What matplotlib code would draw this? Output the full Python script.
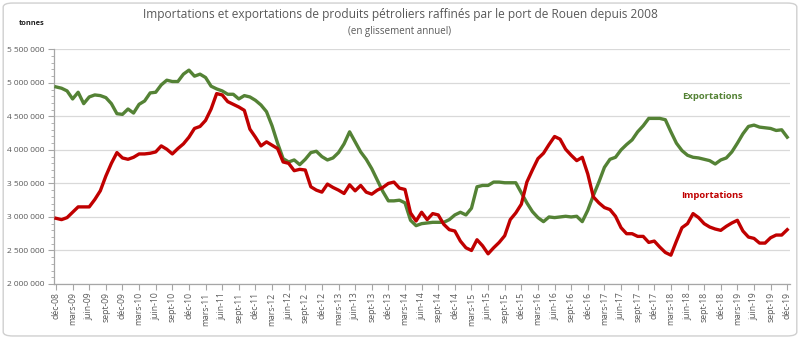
import matplotlib
matplotlib.use("Agg")
import matplotlib.pyplot as plt
from matplotlib.ticker import MultipleLocator, FuncFormatter, FixedLocator
from matplotlib.patches import FancyBboxPatch

plt.rcParams['font.family'] = ['Open Sans', 'DejaVu Sans']

# Monthly data, déc-08 .. déc-19 (rolling annual totals, millions of tonnes)
exportations = [
    4.94, 4.92, 4.88, 4.76, 4.86, 4.69, 4.79, 4.82, 4.81, 4.78, 4.69, 4.54,
    4.53, 4.61, 4.55, 4.68, 4.73, 4.85, 4.86, 4.97, 5.04, 5.02, 5.02, 5.13,
    5.19, 5.10, 5.13, 5.08, 4.95, 4.91, 4.88, 4.83, 4.83, 4.76, 4.81, 4.79,
    4.74, 4.67, 4.57, 4.36, 4.10, 3.87, 3.82, 3.85, 3.78, 3.86, 3.96, 3.98,
    3.90, 3.85, 3.88, 3.96, 4.09, 4.27, 4.12, 3.97, 3.86, 3.72, 3.55, 3.38,
    3.24, 3.24, 3.25, 3.21, 2.95, 2.87, 2.90, 2.91, 2.92, 2.92, 2.92, 2.96,
    3.03, 3.07, 3.03, 3.13, 3.45, 3.47, 3.47, 3.52, 3.52, 3.51, 3.51, 3.51,
    3.36, 3.21, 3.08, 2.99, 2.93, 3.00, 2.99, 3.00, 3.01, 3.00, 3.01, 2.93,
    3.10, 3.32, 3.52, 3.74, 3.86, 3.89, 4.00, 4.08, 4.15, 4.27, 4.36, 4.47,
    4.47, 4.47, 4.45, 4.27, 4.10, 3.99, 3.92, 3.89, 3.88, 3.86, 3.84, 3.79,
    3.85, 3.88, 3.97, 4.10, 4.24, 4.35, 4.37, 4.34, 4.33, 4.32, 4.29, 4.30,
    4.19,
]
importations = [
    2.98, 2.96, 2.99, 3.07, 3.15, 3.15, 3.15, 3.26, 3.39, 3.61, 3.80, 3.96,
    3.88, 3.86, 3.89, 3.94, 3.94, 3.95, 3.97, 4.06, 4.01, 3.94, 4.02, 4.09,
    4.19, 4.32, 4.35, 4.44, 4.61, 4.84, 4.82, 4.72, 4.68, 4.64, 4.59, 4.31,
    4.19, 4.06, 4.12, 4.07, 4.02, 3.82, 3.80, 3.69, 3.71, 3.70, 3.45, 3.40,
    3.37, 3.49, 3.44, 3.40, 3.35, 3.48, 3.39, 3.47, 3.37, 3.34, 3.40, 3.44,
    3.50, 3.52, 3.43, 3.41, 3.06, 2.94, 3.07, 2.96, 3.05, 3.03, 2.89, 2.81,
    2.79, 2.64, 2.54, 2.50, 2.66, 2.57, 2.45, 2.54, 2.62, 2.72, 2.96, 3.06,
    3.19, 3.52, 3.70, 3.87, 3.95, 4.08, 4.20, 4.16, 4.01, 3.92, 3.84, 3.89,
    3.64, 3.30, 3.21, 3.14, 3.11, 3.01, 2.84, 2.75, 2.75, 2.71, 2.71, 2.62,
    2.64, 2.55, 2.47, 2.43, 2.64, 2.84, 2.90, 3.05, 2.99, 2.90, 2.85, 2.82,
    2.80, 2.86, 2.91, 2.95, 2.79, 2.70, 2.68, 2.61, 2.61, 2.69, 2.73, 2.73,
    2.81,
]
mois = ['déc', 'mars', 'juin', 'sept']
tick_labels = []
for k in range(45):
    m = mois[k % 4]
    yr = 8 + k // 4 + (0 if k % 4 == 0 else 1)
    tick_labels.append(f"{m}-{yr:02d}")

exp_t = [v * 1e6 for v in exportations]
imp_t = [v * 1e6 for v in importations]
x = list(range(len(exp_t)))

GREEN = '#548235'
RED = '#C00000'
GRAY = '#595959'

fig = plt.figure(figsize=(8.0, 3.38), dpi=100)
border = FancyBboxPatch((0.004, 0.006), 0.992, 0.985,
                        boxstyle="round,pad=0,rounding_size=0.012",
                        transform=fig.transFigure, facecolor='white',
                        edgecolor='#d0d0d0', linewidth=1.0, zorder=-10)
fig.patches.append(border)

ax = fig.add_axes([0.0675, 0.1598, 0.92, 0.6942])
ax.set_facecolor('none')

ax.plot(x, exp_t, color=GREEN, linewidth=2.4, solid_joinstyle='round', zorder=3)
ax.plot(x, imp_t, color=RED, linewidth=2.4, solid_joinstyle='round', zorder=3)

ax.set_xlim(-0.36, 132.5)
ax.set_ylim(2.0e6, 5.5e6)

ax.yaxis.set_major_locator(MultipleLocator(500000))
ax.yaxis.set_minor_locator(MultipleLocator(100000))
ax.yaxis.set_major_formatter(FuncFormatter(lambda v, p: f"{int(round(v)):,}".replace(',', ' ')))
ax.grid(axis='y', which='major', color='#d9d9d9', linewidth=0.9, zorder=0)

ax.xaxis.set_major_locator(FixedLocator(list(range(0, 133, 3))))
ax.set_xticklabels(tick_labels, rotation=90, fontsize=6.2, color=GRAY)
ax.tick_params(axis='x', which='major', length=4, width=0.8, color='#a6a6a6', pad=2)
ax.tick_params(axis='y', which='major', labelsize=6.0, labelcolor=GRAY, length=4,
               width=0.8, color='#a6a6a6', pad=3)
ax.tick_params(axis='y', which='minor', length=2, width=0.6, color='#a6a6a6')

for s in ['top', 'right']:
    ax.spines[s].set_visible(False)
for s in ['left', 'bottom']:
    ax.spines[s].set_color('#a6a6a6')
    ax.spines[s].set_linewidth(0.9)

fig.text(0.5, 0.957, "Importations et exportations de produits pétroliers raffinés par le port de Rouen depuis 2008",
         ha='center', va='center', fontsize=8.6, color=GRAY)
fig.text(0.5, 0.907, "(en glissement annuel)", ha='center', va='center', fontsize=7.0, color=GRAY)
fig.text(0.039, 0.93, "tonnes", ha='center', va='center', fontsize=5.3, fontweight='bold', color='#222222')

ax.text(118.4, 4.79e6, "Exportations", color=GREEN, fontsize=6.8, fontweight='bold', ha='center', va='center')
ax.text(118.4, 3.32e6, "Importations", color=RED, fontsize=6.8, fontweight='bold', ha='center', va='center')

fig.savefig("out.png", dpi=100)
